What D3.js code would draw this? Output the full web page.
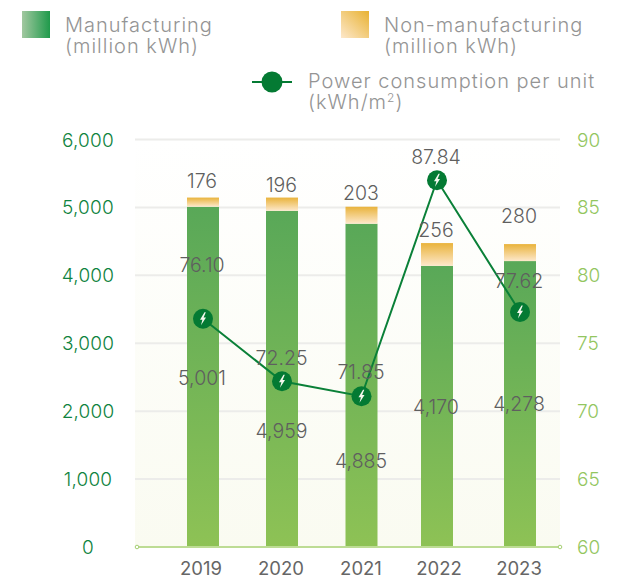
<!DOCTYPE html>
<html><head><meta charset="utf-8">
<script src="https://cdn.jsdelivr.net/npm/d3@7"></script>
<style>html,body{margin:0;background:#fff}svg{display:block}text{font-family:Inter,"Open Sans",sans-serif;font-weight:300}</style>
</head><body><svg id="c" width="623" height="581"></svg>
<script>
const years=["2019","2020","2021","2022","2023"];
// Heights as drawn in the picture (they differ slightly from the printed labels)
const manufacturingDrawn=[5010,4950,4760,4140,4210];
const nonManufacturingDrawn=[135,195,250,335,250];
const perUnitDrawn=[76.8,72.2,71.1,87.0,77.3];
// Printed labels
const manufacturingLabels=["5,001","4,959","4,885","4,170","4,278"];
const nonManufacturingLabels=["176","196","203","256","280"];
const perUnitLabels=["76.10","72.25","71.85","87.84","77.62"];
const leftTicks=[0,1000,2000,3000,4000,5000,6000];
const rightTicks=[60,65,70,75,80,85,90];
// Layout only
const yearCenters=[203,282,361.5,437,520];
const labelCenters=[202,281.5,361,436,519];
const yearLabelCenters=[201,281,361,439,519];
const mfgLabelY=[378,431,461,407,404];
const nonLabelY=[181,185,193,230,216];
const perLabelY=[265,358,372,157,281];

const svg=d3.select("#c");
const defs=svg.append("defs");
function grad(id,x1,y1,x2,y2,a,b){const g=defs.append("linearGradient").attr("id",id).attr("x1",x1).attr("y1",y1).attr("x2",x2).attr("y2",y2);
 g.append("stop").attr("offset",0).attr("stop-color",a);g.append("stop").attr("offset",1).attr("stop-color",b);}
grad("bg",0,0,0,1,"#ffffff","#fafbf1");
grad("gBar",0,0,0,1,"#59a858","#8ec255");
grad("yBar",0,0,0,1,"#e9b33b","#fde8cb");
grad("gLeg",0,0,1,0,"#a2c8a0","#1f9a4b");
grad("yLeg",0,1,1,0,"#fde8cb","#e8b232");

const x=d3.scaleOrdinal().domain(years).range(yearCenters);
const y=d3.scaleLinear().domain([0,6000]).range([547,139.5]);
const yR=d3.scaleLinear().domain([60,90]).range([547,139.5]);
const x0=135,x1=560,barW=32;

svg.append("rect").attr("x",x0).attr("y",y(6000)).attr("width",x1-x0).attr("height",y(0)-y(6000)).attr("fill","url(#bg)");
svg.append("g").selectAll("line").data(leftTicks.slice(1)).join("line")
 .attr("x1",x0).attr("x2",x1).attr("y1",d=>y(d)).attr("y2",d=>y(d)).attr("stroke","#ececea").attr("stroke-width",2);

// bars
const rows=years.map((d,i)=>({d,i}));
svg.append("g").selectAll("rect").data(rows).join("rect")
 .attr("x",o=>x(o.d)-barW/2).attr("width",barW)
 .attr("y",o=>y(manufacturingDrawn[o.i])).attr("height",o=>y(0)-y(manufacturingDrawn[o.i])+1)
 .attr("fill","url(#gBar)");
svg.append("g").selectAll("rect").data(rows).join("rect")
 .attr("x",o=>x(o.d)-barW/2).attr("width",barW)
 .attr("y",o=>y(manufacturingDrawn[o.i]+nonManufacturingDrawn[o.i])).attr("height",o=>y(0)-y(nonManufacturingDrawn[o.i]))
 .attr("fill","url(#yBar)");

// baseline
svg.append("line").attr("x1",x0+1).attr("x2",x1).attr("y1",y(0)).attr("y2",y(0)).attr("stroke","#bddc94").attr("stroke-width",2);
svg.selectAll("circle.end").data([x0+2,x1]).join("circle").attr("class","end").attr("cx",d=>d).attr("cy",y(0)).attr("r",1.8).attr("fill","#fff").attr("stroke","#a5cf72").attr("stroke-width",1);

// axes text
const ax=svg.append("g").style("font-size","19px");
ax.selectAll("text.l").data(leftTicks).join("text").attr("class","l").attr("x",88).attr("y",d=>y(d)+7)
 .attr("text-anchor","middle").attr("fill","#0f8340").style("letter-spacing","0.2px").text(d=>d3.format(",")(d));
ax.selectAll("text.r").data(rightTicks).join("text").attr("class","r").attr("x",577).attr("y",d=>yR(d)+7)
 .attr("fill","#93c65f").text(d=>d);
ax.selectAll("text.x").data(years).join("text").attr("class","x").attr("text-anchor","middle").attr("x",(d,i)=>yearLabelCenters[i]).attr("y",575)
 .attr("fill","#666").style("font-size","18.5px").style("font-weight","400").text(d=>d);

// line
const line=d3.line().x(o=>x(o.d)).y(o=>yR(perUnitDrawn[o.i]));
svg.append("path").attr("d",line(rows)).attr("fill","none").attr("stroke","#0a8038").attr("stroke-width",2);
const bolt="M1.5,-6.5 L-3,1 L-0.6,1 L-2,6.5 L3,-1.2 L0.6,-1.2 L2.8,-6.5 Z";
const mk=svg.append("g").selectAll("g").data(rows).join("g").attr("transform",o=>`translate(${x(o.d)},${yR(perUnitDrawn[o.i])})`);
mk.append("circle").attr("r",10).attr("fill","#047a33");
mk.append("path").attr("d",bolt).attr("fill","#f4f8ee");

// value labels
const lab=svg.append("g").style("font-size","19.5px").attr("fill","#5f5f5f").attr("text-anchor","middle");
function labels(texts,ys){lab.append("g").selectAll("text").data(texts).join("text")
 .attr("x",(d,i)=>labelCenters[i]).attr("y",(d,i)=>ys[i]+7).text(d=>d);}
labels(manufacturingLabels,mfgLabelY);
labels(nonManufacturingLabels,nonLabelY);
labels(perUnitLabels,perLabelY);

// legend
const leg=svg.append("g").style("font-size","20px").style("letter-spacing","1px").attr("fill","#949494");
leg.append("rect").attr("x",22).attr("y",11).attr("width",28).attr("height",27).attr("fill","url(#gLeg)");
leg.append("rect").attr("x",341).attr("y",11).attr("width",28).attr("height",27).attr("fill","url(#yLeg)");
function tl(xp,yp,s){return leg.append("text").attr("x",xp).attr("y",yp).text(s);}
tl(65,32,"Manufacturing");tl(65,53,"(million kWh)");
tl(384,32,"Non-manufacturing");tl(384,53,"(million kWh)");
tl(308,88,"Power consumption per unit");
const t=tl(308,109,"(kWh/m");t.append("tspan").attr("dy",-7).style("font-size","12px").text("2");t.append("tspan").attr("dy",7).text(")");
leg.append("line").attr("x1",252).attr("x2",292).attr("y1",82).attr("y2",82).attr("stroke","#047a33").attr("stroke-width",2);
leg.append("circle").attr("cx",272).attr("cy",82).attr("r",10.5).attr("fill","#047a33");
</script></body></html>
